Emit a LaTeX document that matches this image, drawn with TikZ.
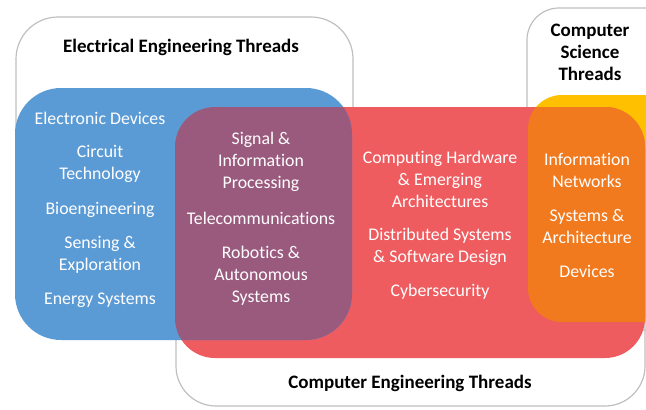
\documentclass[tikz,border=0pt]{standalone}
\usepackage{fontspec}
\setmainfont{Carlito}[Ligatures=NoCommon]
\definecolor{eeblue}{HTML}{5B9BD5}
\definecolor{cered}{HTML}{EF5C5F}
\definecolor{csyellow}{HTML}{FFC000}
\definecolor{mixpurple}{HTML}{9A5A7E}
\definecolor{mixorange}{HTML}{F27A1E}
\begin{document}
\begin{tikzpicture}[x=1pt,y=-1pt,
	outline/.style={draw=black!25,line width=1.2pt},
	thread/.style={text=white,align=center,font=\fontsize{17.8}{22}\selectfont},
	title/.style={text=black,align=center,font=\bfseries\fontsize{19}{22}\selectfont}]
	\useasboundingbox (0,0) rectangle (646,410);
	\begin{scope}
		\clip (0,0) rectangle (646,410);
		\draw [outline,rounded corners=42pt] (16,17) rectangle (353,330);
		\draw [outline,rounded corners=32pt] (527,8) rectangle (720,330);
		\draw [outline,rounded corners=40pt] (176,130) rectangle (645,406);
		\fill [csyellow,rounded corners=34pt] (528,95) rectangle (720,322);
		\fill [cered,rounded corners=40pt] (175,107) rectangle (645,358);
		\fill [eeblue,rounded corners=46pt] (15,88) rectangle (352,340);
		\begin{scope}
			\clip [rounded corners=46pt] (15,88) rectangle (352,340);
			\fill [mixpurple,rounded corners=40pt] (175,107) rectangle (645,358);
		\end{scope}
		\begin{scope}
			\clip [rounded corners=34pt] (528,95) rectangle (720,322);
			\fill [mixorange,rounded corners=40pt] (175,107) rectangle (645,358);
		\end{scope}
	\end{scope}

	\node [title] (ee) at (181,47) {Electrical Engineering Threads};
	\node [title] (cs) at (590,52) {Computer\\Science\\Threads};
	\node [title] (ce) at (410,383) {Computer Engineering Threads};

	\node [thread] (devices) at (100,118) {Electronic Devices};
	\node [thread] (circuit) at (100,164) {Circuit\\Technology};
	\node [thread] (bio) at (100,210) {Bioengineering};
	\node [thread] (sensing) at (100,255) {Sensing \&\\Exploration};
	\node [thread] (energy) at (100,300) {Energy Systems};

	\node [thread] (signal) at (261,162) {Signal \&\\Information\\Processing};
	\node [thread] (telecom) at (261,218) {Telecommunications};
	\node [thread] (robotics) at (261,276) {Robotics \&\\Autonomous\\Systems};

	\node [thread] (hardware) at (440,179) {Computing Hardware\\\& Emerging\\Architectures};
	\node [thread] (distributed) at (440,247) {Distributed Systems\\\& Software Design};
	\node [thread] (cyber) at (440,292) {Cybersecurity};

	\node [thread] (networks) at (587,170) {Information\\Networks};
	\node [thread] (systems) at (587,226) {Systems \&\\Architecture};
	\node [thread] (csdevices) at (587,271) {Devices};
\end{tikzpicture}
\end{document}
